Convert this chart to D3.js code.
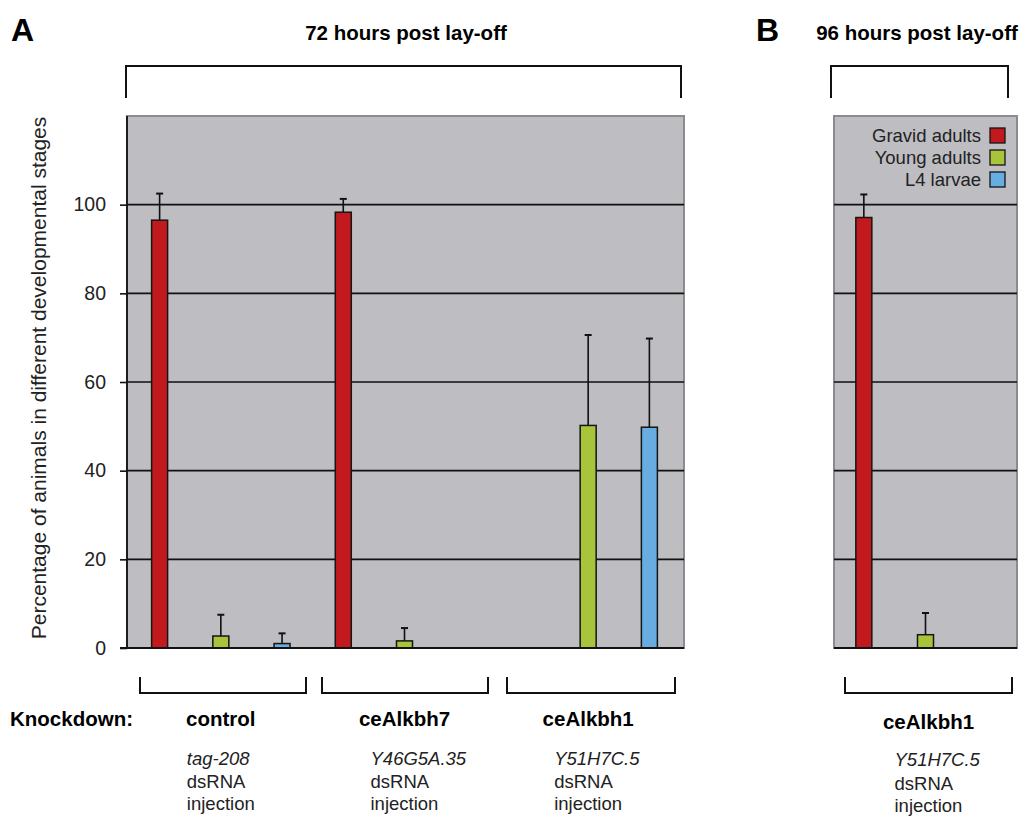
<!DOCTYPE html>
<html>
<head>
<meta charset="utf-8">
<script src="https://cdn.jsdelivr.net/npm/d3@7"></script>
<style>
  body { margin: 0; background: #fff; }
  svg { font-family: "Liberation Sans", Arial, sans-serif; }
</style>
</head>
<body>
<svg id="chart" width="1027" height="818"></svg>
<script>
const stages = ["Gravid adults", "Young adults", "L4 larvae"];
const stageColors = ["#c1191e", "#a8c43b", "#68ade2"];

const groupsA = ["control", "ceAlkbh7", "ceAlkbh1"];
const genesA = ["tag-208", "Y46G5A.35", "Y51H7C.5"];
const gravidA = [96.5, 98.3, 0];
const youngA = [2.7, 1.6, 50.2];
const larvaeA = [1.0, 0, 49.8];
const gravidErrA = [6.0, 3.0, 0];
const youngErrA = [4.8, 2.9, 20.4];
const larvaeErrA = [2.3, 0, 20.0];

const groupsB = ["ceAlkbh1"];
const genesB = ["Y51H7C.5"];
const gravidB = [97.1];
const youngB = [3.0];
const larvaeB = [0];
const gravidErrB = [5.2];
const youngErrB = [4.9];
const larvaeErrB = [0];

const yTicks = [0, 20, 40, 60, 80, 100];

const svg = d3.select("#chart");
const y = d3.scaleLinear().domain([0, 120]).range([648, 116]);
const barWidth = 16;

function toRows(groups, vals, errs) {
    const rows = [];
    groups.forEach((g, gi) => {
        stages.forEach((s, si) => {
            rows.push({key: g + "|" + s, stage: si, value: vals[si][gi], err: errs[si][gi]});
        });
    });
    return rows;
}

function drawPanel(opts) {
    const {x0, x1, bandLeft, bandRight, rows, axis} = opts;
    const x = d3.scaleBand()
                .domain(rows.map(r => r.key))
                .range([bandLeft, bandRight])
                .padding(0);

    svg.append("rect")
        .attr("x", x0).attr("y", y(120))
        .attr("width", x1 - x0).attr("height", y(0) - y(120))
        .attr("fill", "#bdbdc2")
        .attr("stroke", "#8c8c90")
        .attr("stroke-width", 2);

    // gridlines
    svg.append("g")
        .selectAll("line")
        .data(yTicks.filter(t => t > 0))
        .enter()
        .append("line")
        .attr("x1", x0).attr("x2", x1)
        .attr("y1", d => y(d)).attr("y2", d => y(d))
        .attr("stroke", "#111")
        .attr("stroke-width", 1.6);

    if (axis) {
        const g = svg.append("g")
            .attr("transform", `translate(${x0}, 0)`)
            .call(d3.axisLeft(y).tickValues(yTicks).tickSize(7).tickPadding(14));
        g.select(".domain").attr("stroke", "#111").attr("stroke-width", 1.8)
            .attr("d", `M0,${y(120)}V${y(0)}`);
        g.selectAll(".tick line").attr("stroke", "#111").attr("stroke-width", 1.6);
        g.selectAll("text").attr("font-size", "19.5px").attr("fill", "#222")
            .attr("font-family", "Liberation Sans, Arial, sans-serif");
    }

    const visible = rows.filter(r => r.value > 0);

    // error bars
    const eb = svg.append("g").selectAll("g").data(visible.filter(r => r.err > 0)).enter().append("g");
    eb.append("line")
        .attr("x1", r => x(r.key) + x.bandwidth() / 2)
        .attr("x2", r => x(r.key) + x.bandwidth() / 2)
        .attr("y1", r => y(r.value)).attr("y2", r => y(r.value + r.err))
        .attr("stroke", "#111").attr("stroke-width", 1.6);
    eb.append("line")
        .attr("x1", r => x(r.key) + x.bandwidth() / 2 - 3.5)
        .attr("x2", r => x(r.key) + x.bandwidth() / 2 + 3.5)
        .attr("y1", r => y(r.value + r.err)).attr("y2", r => y(r.value + r.err))
        .attr("stroke", "#111").attr("stroke-width", 2);

    svg.append("g").selectAll("rect").data(visible).enter().append("rect")
        .attr("x", r => x(r.key) + x.bandwidth() / 2 - barWidth / 2)
        .attr("y", r => y(r.value))
        .attr("width", barWidth)
        .attr("height", r => y(0) - y(r.value))
        .attr("fill", r => stageColors[r.stage])
        .attr("stroke", "#151515")
        .attr("stroke-width", 1.5);

    // baseline
    svg.append("line")
        .attr("x1", axis ? x0 - 7 : x0).attr("x2", x1)
        .attr("y1", y(0)).attr("y2", y(0))
        .attr("stroke", "#111").attr("stroke-width", 1.8);

    return x;
}

const rowsA = toRows(groupsA, [gravidA, youngA, larvaeA], [gravidErrA, youngErrA, larvaeErrA]);
const rowsB = toRows(groupsB, [gravidB, youngB, larvaeB], [gravidErrB, youngErrB, larvaeErrB]);

const xA = drawPanel({x0: 127, x1: 684, bandLeft: 129, bandRight: 680, rows: rowsA, axis: true});
const xB = drawPanel({x0: 834, x1: 1017, bandLeft: 833, bandRight: 1018, rows: rowsB, axis: false});

// y-axis title
svg.append("text")
    .attr("transform", "translate(46, 378) rotate(-90)")
    .attr("text-anchor", "middle")
    .attr("font-size", "21px")
    .attr("fill", "#222")
    .text("Percentage of animals in different developmental stages");

// legend
const legend = svg.append("g").selectAll("g").data(stages).enter().append("g")
    .attr("transform", (d, i) => `translate(0, ${136 + i * 22})`);
legend.append("text")
    .attr("x", 981).attr("y", 6)
    .attr("text-anchor", "end")
    .attr("font-size", "18.5px")
    .attr("fill", "#222")
    .text(d => d);
legend.append("rect")
    .attr("x", 990).attr("y", -8)
    .attr("width", 15).attr("height", 15)
    .attr("fill", (d, i) => stageColors[i])
    .attr("stroke", "#151515").attr("stroke-width", 1.3);

// panel letters and titles
svg.append("text").attr("x", 11).attr("y", 41).attr("font-size", "32px").attr("font-weight", "bold").text("A");
svg.append("text").attr("x", 756).attr("y", 41).attr("font-size", "32px").attr("font-weight", "bold").text("B");
svg.append("text").attr("x", 406).attr("y", 40).attr("text-anchor", "middle")
    .attr("font-size", "20.5px").attr("font-weight", "bold").text("72 hours post lay-off");
svg.append("text").attr("x", 917).attr("y", 40).attr("text-anchor", "middle")
    .attr("font-size", "20.5px").attr("font-weight", "bold").text("96 hours post lay-off");

// top brackets
function bracketDown(xl, xr, yt, yb) {
    svg.append("path")
        .attr("d", `M${xl},${yb}V${yt}H${xr}V${yb}`)
        .attr("fill", "none").attr("stroke", "#111").attr("stroke-width", 2);
}
bracketDown(126, 681, 66, 98);
bracketDown(831, 1008, 66, 98);

// bottom brackets
function bracketUp(xl, xr, yt, yb) {
    svg.append("path")
        .attr("d", `M${xl},${yt}V${yb}H${xr}V${yt}`)
        .attr("fill", "none").attr("stroke", "#111").attr("stroke-width", 2);
}
[[140, 306], [322, 488], [507, 675]].forEach(b => bracketUp(b[0], b[1], 677, 693));
bracketUp(845, 1012, 677, 693);

svg.append("text").attr("x", 10).attr("y", 726).attr("font-size", "20.5px").attr("font-weight", "bold")
    .text("Knockdown:");

function groupLabels(groups, genes, centers, top, lines) {
    groups.forEach((g, i) => {
        const cx = centers[i];
        svg.append("text").attr("x", cx).attr("y", top).attr("text-anchor", "middle")
            .attr("font-size", "20.5px").attr("font-weight", "bold").text(g);
        const left = cx - 34;
        svg.append("text").attr("x", left).attr("y", lines[0]).attr("font-size", "18.5px")
            .attr("font-style", "italic").attr("fill", "#222").text(genes[i]);
        svg.append("text").attr("x", left).attr("y", lines[1]).attr("font-size", "18.5px")
            .attr("fill", "#222").text("dsRNA");
        svg.append("text").attr("x", left).attr("y", lines[2]).attr("font-size", "18.5px")
            .attr("fill", "#222").text("injection");
    });
}
const centerOf = (xs, g) => xs(g + "|" + stages[1]) + xs.bandwidth() / 2;
groupLabels(groupsA, genesA, groupsA.map(g => centerOf(xA, g)), 726, [765, 788, 810]);
groupLabels(groupsB, genesB, groupsB.map(g => centerOf(xB, g) + 3), 729, [766, 790, 812]);
</script>
</body>
</html>
